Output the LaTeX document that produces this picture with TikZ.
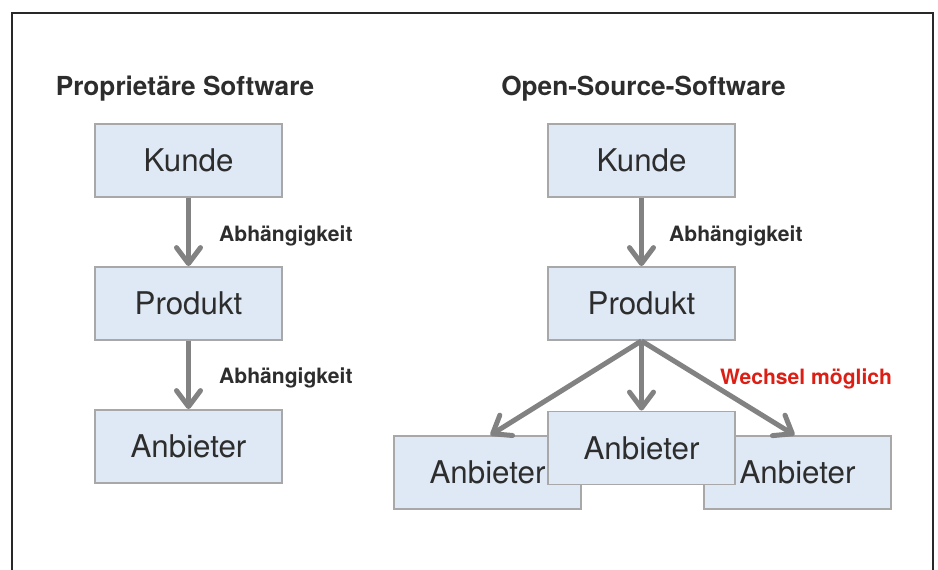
\documentclass[tikz,border=0pt]{standalone}
\usepackage{fontspec}
\setmainfont{TeX Gyre Heros}
\usetikzlibrary{arrows.meta}
\definecolor{boxfill}{RGB}{223,233,245}
\definecolor{boxline}{RGB}{168,168,168}
\definecolor{arrowgray}{RGB}{130,130,130}
\definecolor{txt}{RGB}{45,45,45}
\definecolor{redtxt}{RGB}{220,30,20}
\definecolor{framec}{RGB}{40,40,40}
\tikzset{
  boxnode/.style={draw=boxline, line width=1.8pt, fill=boxfill, minimum width=187pt, minimum height=73pt, inner sep=0pt, text=txt, font=\fontsize{31.3}{31}\selectfont},
  titlenode/.style={text=txt, font=\fontsize{26.2}{26}\selectfont\bfseries, inner sep=0pt},
  labelnode/.style={text=txt, font=\fontsize{21.1}{21}\selectfont\bfseries, inner sep=0pt, anchor=west},
  redlabel/.style={labelnode, text=redtxt},
  deparrow/.style={draw=arrowgray, line width=5pt, -{Straight Barb[length=16pt, width=24pt, round]}}
}
\begin{document}
\begin{tikzpicture}[x=1pt,y=-1pt]
\useasboundingbox (0,0) rectangle (938,570);
\draw[framec, line width=1.3pt] (12,580) -- (12,13) -- (933,13) -- (933,580);

\node[titlenode] (t1) at (185,89) {Proprietäre Software};
\node[titlenode] (t2) at (643.5,89) {Open-Source-Software};

\node[boxnode] (lk) at (188.5,160.5) {Kunde};
\node[boxnode] (lp) at (188.5,303.5) {Produkt};
\node[boxnode] (la) at (188.5,446.5) {Anbieter};

\node[boxnode] (rk) at (641.5,160.5) {Kunde};
\node[boxnode] (rp) at (641.5,303.5) {Produkt};
\node[boxnode] (ra1) at (487.5,472.5) {Anbieter};
\node[boxnode] (ra3) at (797.5,472.5) {Anbieter};
\node[boxnode] (ra2) at (641.5,448) {Anbieter};

\draw[deparrow] (lk.south) -- (lp.north);
\draw[deparrow] (lp.south) -- (la.north);
\draw[deparrow] (rk.south) -- (rp.north);
\draw[deparrow] (rp.south) -- (ra2.north);
\draw[deparrow] (rp.south) -- ([xshift=3pt]ra1.north);
\draw[deparrow] (rp.south) -- ([xshift=-3pt]ra3.north);

\node[labelnode] (l1) at (219,236) {Abhängigkeit};
\node[labelnode] (l2) at (219,378) {Abhängigkeit};
\node[labelnode] (l3) at (669,236) {Abhängigkeit};
\node[redlabel] (l4) at (720,379) {Wechsel möglich};
\end{tikzpicture}
\end{document}
